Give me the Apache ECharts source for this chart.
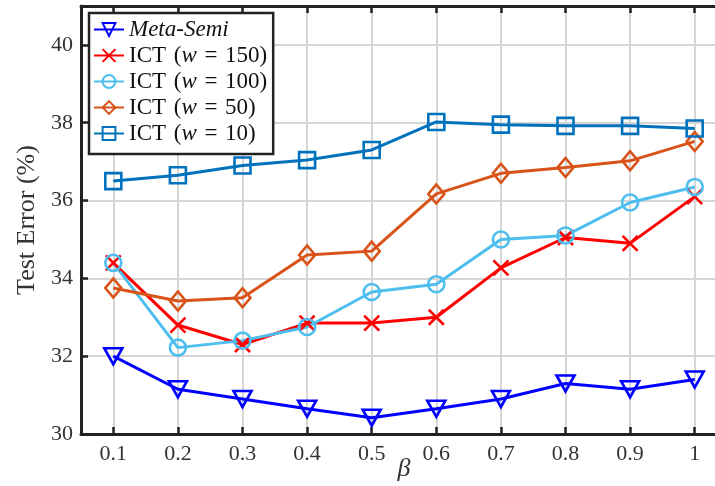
<!DOCTYPE html>
<html>
<head>
<meta charset="utf-8">
<style>
  html, body { margin: 0; padding: 0; background: #fff; }
  #chart { width: 715px; height: 486px; }
</style>
<script src="https://cdn.jsdelivr.net/npm/echarts@6/dist/echarts.min.js"></script>
</head>
<body>
<div id="chart"></div>
<script>
// beta values along the x axis
const betas = ['0.1', '0.2', '0.3', '0.4', '0.5', '0.6', '0.7', '0.8', '0.9', '1'];

// Test error (%) for each method
const metaSemi = [32.0, 31.15, 30.9, 30.65, 30.42, 30.65, 30.9, 31.3, 31.15, 31.4];
const ict150   = [34.4, 32.8, 32.3, 32.85, 32.85, 33.0, 34.27, 35.05, 34.9, 36.1];
const ict100   = [34.4, 32.22, 32.4, 32.75, 33.65, 33.85, 35.0, 35.1, 35.95, 36.35];
const ict50    = [33.75, 33.42, 33.5, 34.6, 34.7, 36.17, 36.7, 36.85, 37.02, 37.52];
const ict10    = [36.5, 36.65, 36.9, 37.04, 37.3, 38.02, 37.95, 37.92, 37.92, 37.85];

const yTicks = [30, 32, 34, 36, 38, 40];

const SERIF = '"Liberation Serif", "Times New Roman", serif';

const symbols = {
  triDown: 'path://M0,0L10,0L5,8.7Z',
  cross: 'path://M0,0L10,10M10,0L0,10',
  diamond: 'path://M5,0L10,6L5,12L0,6Z'
};

function lineSeries(name, data, color, symbol, size) {
  return {
    name: name,
    type: 'line',
    data: data,
    symbol: symbol,
    symbolSize: size,
    showAllSymbol: true,
    lineStyle: { color: color, width: 3 },
    itemStyle: { color: 'rgba(255,255,255,0)', borderColor: color, borderWidth: 2.6 },
    emphasis: { disabled: true },
    animation: false
  };
}

const chart = echarts.init(document.getElementById('chart'), null, { renderer: 'canvas' });

chart.setOption({
  backgroundColor: '#ffffff',
  animation: false,
  grid: { left: 81, right: -12, top: 6, bottom: 52, containLabel: false, outerBoundsMode: 'none' },
  legend: {
    orient: 'vertical',
    left: 89,
    top: 13,
    padding: [5, 6, 9, 4],
    itemGap: 3,
    itemWidth: 30,
    itemHeight: 16,
    backgroundColor: '#ffffff',
    borderColor: '#222',
    borderWidth: 2.5,
    borderRadius: 0,
    data: ['Meta-Semi', 'ICT (w = 150)', 'ICT (w = 100)', 'ICT (w = 50)', 'ICT (w = 10)'],
    formatter: function (name) {
      if (name === 'Meta-Semi') return '{it|Meta-Semi}';
      const m = name.match(/^ICT \(w = (\d+)\)$/);
      return '{rm|ICT\u2004(}{it|w}{rm|\u2004=\u2004' + m[1] + ')}';
    },
    textStyle: {
      fontFamily: SERIF,
      fontSize: 23,
      lineHeight: 20,
      color: '#111',
      rich: {
        rm: { fontFamily: SERIF, fontSize: 23, color: '#111', lineHeight: 20 },
        it: { fontFamily: SERIF, fontSize: 23, fontStyle: 'italic', color: '#111', lineHeight: 20 }
      }
    }
  },
  xAxis: [
    {
      type: 'category',
      data: betas,
      boundaryGap: true,
      position: 'bottom',
      name: 'β',
      nameLocation: 'middle',
      nameGap: 22,
      nameMoveOverlap: false,
      nameTextStyle: { fontFamily: SERIF, fontStyle: 'italic', fontSize: 26, color: '#333' },
      axisLine: { show: true, lineStyle: { color: '#222', width: 3 } },
      axisTick: { show: true, inside: true, alignWithLabel: true, length: 7, lineStyle: { color: '#222', width: 2.5 } },
      axisLabel: { fontFamily: SERIF, fontSize: 22, color: '#333', margin: 9 },
      splitLine: { show: true, alignWithLabel: true, lineStyle: { color: '#d6d6d6', width: 2 } }
    },
    {
      type: 'category',
      data: betas,
      boundaryGap: true,
      position: 'top',
      axisLine: { show: true, lineStyle: { color: '#222', width: 3 } },
      axisTick: { show: true, inside: true, alignWithLabel: true, length: 7, lineStyle: { color: '#222', width: 2.5 } },
      axisLabel: { show: false },
      splitLine: { show: false }
    }
  ],
  yAxis: {
    type: 'value',
    min: yTicks[0],
    max: 41,
    interval: 2,
    name: 'Test Error (%)',
    nameLocation: 'middle',
    nameGap: 35,
    nameTextStyle: { fontFamily: SERIF, fontSize: 26, color: '#333' },
    axisLine: { show: true, lineStyle: { color: '#222', width: 3 } },
    axisTick: { show: true, inside: true, length: 7, lineStyle: { color: '#222', width: 2.5 } },
    axisLabel: {
      fontFamily: SERIF, fontSize: 22, color: '#333', margin: 8,
      showMaxLabel: false,
      formatter: function (v) { return yTicks.indexOf(v) >= 0 ? String(v) : ''; }
    },
    splitLine: { show: true, lineStyle: { color: '#d6d6d6', width: 2 } }
  },
  series: [
    lineSeries('Meta-Semi', metaSemi, '#0000ff', symbols.triDown, [18, 16]),
    lineSeries('ICT (w = 150)', ict150, '#ff0000', symbols.cross, 15),
    lineSeries('ICT (w = 100)', ict100, '#4dbeee', 'circle', 16),
    lineSeries('ICT (w = 50)', ict50, '#d95319', symbols.diamond, [16, 19]),
    lineSeries('ICT (w = 10)', ict10, '#0072bd', 'rect', 16)
  ]
});
</script>
</body>
</html>
